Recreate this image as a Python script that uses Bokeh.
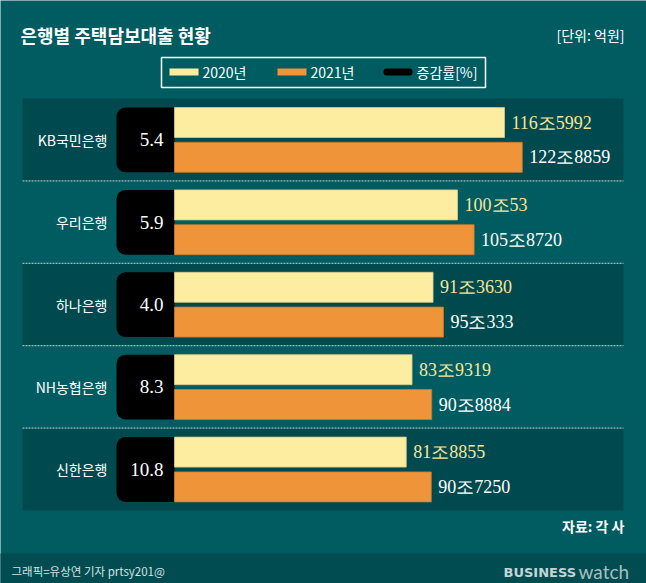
from bokeh.plotting import figure
from bokeh.models import Range1d
from bokeh.embed import file_html
from bokeh.resources import INLINE
from bokeh.core.properties import value

# ---- data ----
banks = ["KB국민은행", "우리은행", "하나은행", "NH농협은행", "신한은행"]
loans_2020 = [1165992, 1000053, 913630, 839319, 818855]   # 억원
loans_2021 = [1228859, 1058720, 950333, 908884, 907250]   # 억원
change_pct = [5.4, 5.9, 4.0, 8.3, 10.8]
legend_labels = ["2020년", "2021년", "증감률[%]"]
title_text = "은행별 주택담보대출 현황"
unit_text = "[단위: 억원]"
source_text = "자료: 각 사"
credit_text = "그래픽=유상연 기자 prtsy201@"

# ---- styles ----
BG = "#005c61"
PANEL = "#004a4f"
FOOT = "#004c51"
YEL = "#fdeda0"
ORA = "#ef9438"
YEL_TXT = "#f6e59c"
SANS = "Noto Sans CJK KR"
SERIF = "Liberation Serif"

W, H = 646, 583
PXU = 2.83 / 10000      # px per 억원
X0 = 174                # px of zero value
ROW_H = 82.4
ROW0 = 139.2


def X(px):
    return (px - X0) / PXU


def Y(py):
    return (py - ROW0) / ROW_H


p = figure(width=W, height=H, x_range=Range1d(X(0), X(W)),
           y_range=Range1d(Y(H), Y(0)), output_backend="svg",
           toolbar_location=None, min_border=0,
           x_axis_location=None, y_axis_location=None)
p.grid.visible = False
p.outline_line_color = None
p.background_fill_color = BG
p.border_fill_color = BG


def txt(x, y, t, size, color="white", font=SANS, align="left", style="normal"):
    p.text(x=[x], y=[y], text=[t], text_font=value(font), text_font_size=size,
           text_color=color, text_align=align, text_baseline="middle",
           text_font_style=style)


n = len(banks)
rows = list(range(n))

# row panels
dark = [i for i in rows if i % 2 == 0]
p.quad(left=X(22), right=X(623), top=[i - 0.5 for i in dark],
       bottom=[i + 0.5 for i in dark], fill_color=PANEL, line_color=None)
# separators
for i in rows[:-1]:
    p.line(x=[X(22), X(623)], y=[i + 0.5, i + 0.5], line_color="#c4d8d8",
           line_width=1, line_dash="2 1")

BH = 30 / ROW_H
off1 = -17.2 / ROW_H
off2 = 17.6 / ROW_H

# black boxes
p.quad(left=X(116), right=0, top=[i - 32.2 / ROW_H for i in rows],
       bottom=[i + 32.6 / ROW_H for i in rows], fill_color="black",
       line_color=None, border_radius=(9, 0, 0, 9))

# bars
p.hbar(y=[i + off1 for i in rows], left=0, right=loans_2020, height=BH,
       fill_color=YEL, line_color="#d9c98a", line_width=0.8)
p.hbar(y=[i + off2 for i in rows], left=0, right=loans_2021, height=BH,
       fill_color=ORA, line_color="#c97a2c", line_width=0.8)


def fmt(v):
    return f"{v // 10000}조{v % 10000}"


gap = 7 / PXU
p.text(x=[v + gap for v in loans_2020], y=[i + off1 for i in rows],
       text=[fmt(v) for v in loans_2020], text_font=value(SERIF),
       text_font_size="18px", text_color=YEL_TXT, text_baseline="middle")
p.text(x=[v + gap for v in loans_2021], y=[i + off2 for i in rows],
       text=[fmt(v) for v in loans_2021], text_font=value(SERIF),
       text_font_size="18px", text_color="white", text_baseline="middle")

# percentages
p.text(x=X(163), y=rows, text=[f"{c:.1f}" for c in change_pct],
       text_font=value(SERIF), text_font_size="19px", text_color="white",
       text_align="right", text_baseline="middle")
# bank names
p.text(x=X(107), y=rows, text=banks, text_font=value(SANS),
       text_font_size="14px", text_color="white", text_align="right",
       text_baseline="middle")

# title & unit
txt(X(20), Y(34), title_text, "18px", style="bold")
txt(X(624), Y(34), unit_text, "14px", align="right")

# legend
p.quad(left=X(161), right=X(485), top=Y(57), bottom=Y(87), fill_color=None,
       line_color="white", line_width=1.5)
sw_x = [169, 277, 383]
sw_c = [YEL, ORA, "black"]
for sx, c, lab in zip(sw_x, sw_c, legend_labels):
    p.quad(left=X(sx), right=X(sx + 29), top=Y(68), bottom=Y(75),
           fill_color=c, line_color=None,
           border_radius=(3 if c == "black" else 0))
    txt(X(sx + 33), Y(71.5), lab, "14px")

# source
txt(X(624), Y(525), source_text, "14px", align="right", style="bold")

# footer
p.quad(left=X(-5), right=X(650), top=Y(553), bottom=Y(590), fill_color=FOOT,
       line_color=None)
txt(X(11), Y(570), credit_text, "11.5px", color="#d5e2e2")
txt(X(503), Y(572), "BUSINESS", "13px", color="#c6d4d4", font="DejaVu Sans",
    style="bold")
txt(X(578), Y(571), "watch", "19px", color="#a8bfc0", font="Lato")

open("out.html", "w").write(file_html(p, INLINE))
